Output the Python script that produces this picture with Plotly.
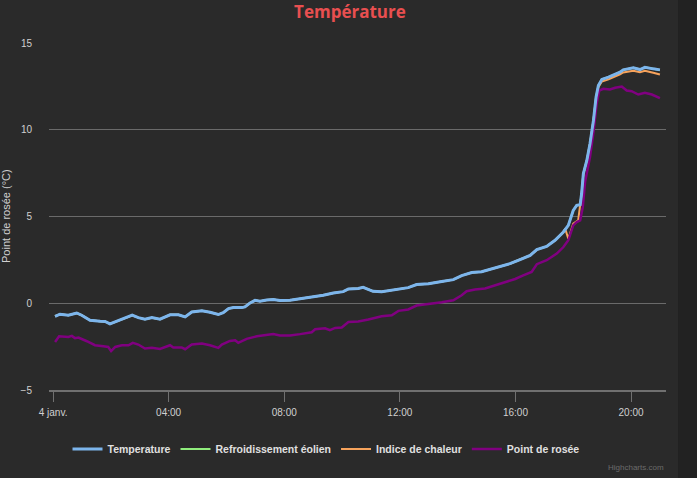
import plotly.graph_objs as go

# hours since midnight, 4 janv.
temp_hours = [0.07, 0.24, 0.53, 0.82, 0.99, 1.28, 1.63, 1.80, 1.97, 2.20, 2.49, 2.74, 2.95, 3.18,
              3.42, 3.70, 4.05, 4.34, 4.57, 4.80, 5.15, 5.43, 5.72, 5.89, 6.07, 6.24, 6.53, 6.64,
              6.82, 6.99, 7.16, 7.39, 7.62, 7.85, 8.20, 8.55, 9.01, 9.35, 9.70, 10.04, 10.22,
              10.56, 10.73, 11.07, 11.37, 11.72, 12.01, 12.29, 12.58, 12.99, 13.45, 13.85, 14.14,
              14.49, 14.83, 15.18, 15.53, 15.81, 16.16, 16.51, 16.74, 17.08, 17.37, 17.66, 17.83,
              18.00, 18.12, 18.24, 18.29, 18.35, 18.47, 18.58, 18.70, 18.79, 18.87, 18.99, 19.22,
              19.45, 19.62, 19.73, 19.97, 20.08, 20.31, 20.48, 20.77, 21.00]
temperature = [-0.75, -0.63, -0.69, -0.56, -0.69, -0.98, -1.04, -1.05, -1.19, -1.04, -0.88, -0.69,
               -0.83, -0.92, -0.83, -0.92, -0.67, -0.67, -0.79, -0.50, -0.44, -0.52, -0.65, -0.54,
               -0.31, -0.25, -0.25, -0.21, 0.02, 0.17, 0.12, 0.19, 0.21, 0.16, 0.17, 0.25, 0.39,
               0.46, 0.59, 0.67, 0.82, 0.85, 0.92, 0.69, 0.67, 0.75, 0.85, 0.90, 1.08, 1.13, 1.25,
               1.36, 1.59, 1.77, 1.82, 1.98, 2.13, 2.28, 2.52, 2.76, 3.09, 3.28, 3.63, 4.11, 4.49,
               5.35, 5.64, 5.68, 6.31, 7.47, 8.23, 9.19, 10.54, 11.88, 12.55, 12.90, 13.03, 13.18,
               13.32, 13.45, 13.52, 13.57, 13.47, 13.60, 13.51, 13.45]

# wind chill equals the temperature all day (hidden under it)
chill_hours = temp_hours
wind_chill = temperature

# heat index follows the temperature until ~17:40
heat_hours = temp_hours[:64] + [17.72, 17.83, 18.00, 18.17, 18.29, 18.35, 18.47, 18.58, 18.70,
                                18.79, 18.87, 18.99, 19.22, 19.45, 19.62, 19.73, 19.97, 20.08,
                                20.31, 20.48, 20.77, 21.00]
heat_index = temperature[:64] + [4.30, 3.72, 4.59, 4.78, 6.31, 7.47, 8.23, 9.19, 10.54, 11.80,
                                 12.45, 12.78, 12.90, 13.05, 13.20, 13.30, 13.36, 13.40, 13.32,
                                 13.40, 13.28, 13.18]

dew_hours = [0.07, 0.21, 0.53, 0.65, 0.76, 0.88, 1.17, 1.45, 1.74, 1.91, 2.01, 2.15, 2.38, 2.61,
             2.76, 2.95, 3.18, 3.42, 3.70, 4.05, 4.16, 4.45, 4.57, 4.80, 5.15, 5.43, 5.72, 5.84,
             6.12, 6.30, 6.41, 6.70, 7.05, 7.39, 7.62, 7.85, 8.20, 8.55, 8.95, 9.07, 9.41, 9.58,
             9.76, 9.99, 10.22, 10.56, 10.91, 11.37, 11.72, 11.95, 12.29, 12.58, 12.99, 13.45,
             13.85, 14.14, 14.31, 14.60, 14.95, 15.29, 15.64, 15.99, 16.27, 16.56, 16.74, 17.08,
             17.43, 17.66, 17.83, 18.00, 18.12, 18.24, 18.33, 18.41, 18.58, 18.70, 18.81, 18.90,
             19.04, 19.27, 19.45, 19.68, 19.85, 20.02, 20.25, 20.48, 20.72, 21.00]
dew_point = [-2.23, -1.90, -1.94, -1.88, -2.01, -1.98, -2.19, -2.42, -2.48, -2.52, -2.76, -2.52,
             -2.42, -2.42, -2.28, -2.38, -2.61, -2.57, -2.63, -2.42, -2.55, -2.55, -2.65, -2.38,
             -2.32, -2.42, -2.57, -2.38, -2.17, -2.13, -2.28, -2.05, -1.90, -1.84, -1.78, -1.86,
             -1.86, -1.78, -1.67, -1.50, -1.44, -1.55, -1.42, -1.40, -1.08, -1.05, -0.94, -0.75,
             -0.69, -0.44, -0.36, -0.13, -0.06, 0.06, 0.17, 0.46, 0.69, 0.79, 0.85, 1.04, 1.23,
             1.40, 1.61, 1.80, 2.25, 2.48, 2.86, 3.24, 3.63, 4.49, 4.68, 4.78, 5.54, 7.00, 8.42,
             9.86, 11.50, 12.26, 12.36, 12.32, 12.42, 12.49, 12.26, 12.22, 12.03, 12.13, 12.03,
             11.82]

tick_hours = [0, 4, 8, 12, 16, 20]
tick_labels = ['4 janv.', '04:00', '08:00', '12:00', '16:00', '20:00']

font_name = 'Liberation Sans Narrow, Liberation Sans, sans-serif'

fig = go.Figure()
fig.add_trace(go.Scatter(x=chill_hours, y=wind_chill, mode='lines', name='Refroidissement éolien',
                         line=dict(color='#90ed7d', width=2), legendrank=2))
fig.add_trace(go.Scatter(x=heat_hours, y=heat_index, mode='lines', name='Indice de chaleur',
                         line=dict(color='#f7a35c', width=2), legendrank=3))
fig.add_trace(go.Scatter(x=dew_hours, y=dew_point, mode='lines', name='Point de rosée',
                         line=dict(color='#800080', width=2.5), legendrank=4))
fig.add_trace(go.Scatter(x=temp_hours, y=temperature, mode='lines', name='Temperature',
                         line=dict(color='#7cb5ec', width=3), legendrank=1))

fig.update_layout(
    width=697, height=478,
    paper_bgcolor='#2a2a2a', plot_bgcolor='#2a2a2a',
    margin=dict(l=49, r=31, t=43, b=88),
    title=dict(text='<b>Température</b>', x=0.502, xanchor='center', y=0.975, yanchor='middle',
               font=dict(family='Open Sans, sans-serif', size=17, color='#e84f50')),
    xaxis=dict(range=[-0.14, 21.21], tickvals=tick_hours, ticktext=tick_labels,
               showgrid=False, zeroline=False, showline=True, linecolor='#707070', linewidth=2,
               ticks='outside', ticklen=10, tickcolor='#707070', tickwidth=1,
               ticklabelstandoff=2,
               tickfont=dict(family=font_name, size=10, color='#d0d0d0')),
    yaxis=dict(range=[-5, 15], tickvals=[-5, 0, 5, 10, 15], showgrid=True, gridcolor='#6a6a6a',
               gridwidth=1, zeroline=False, ticklabelstandoff=16,
               tickfont=dict(family=font_name, size=10, color='#d0d0d0')),
    legend=dict(orientation='h', x=0.03, xanchor='left', y=-0.17, yanchor='middle',
                font=dict(family=font_name, size=10.5, color='#e0e0e0', weight='bold'),
                bgcolor='rgba(0,0,0,0)'),
    showlegend=True,
)

fig.add_shape(type='rect', xref='paper', yref='paper', x0=1.0195, x1=1.06, y0=-0.3, y1=1.15,
              fillcolor='#222222', line=dict(width=0), layer='below')

fig.add_annotation(text='Point de rosée (°C)', xref='paper', yref='paper', x=-0.0705, y=0.5,
                   textangle=-90, showarrow=False, xanchor='center', yanchor='middle',
                   font=dict(family=font_name, size=11, color='#d0d0d0'))
fig.add_annotation(text='Highcharts.com', xref='paper', yref='paper', x=1.0, y=-0.222,
                   showarrow=False, xanchor='right', yanchor='middle',
                   font=dict(family=font_name, size=8, color='#6a6a6a'))

# drop the page's default 8px body margin so the chart sits at the window's corner
fig.write_html("out.html", config={'displayModeBar': False},
               post_script="document.body.style.margin='0';")
